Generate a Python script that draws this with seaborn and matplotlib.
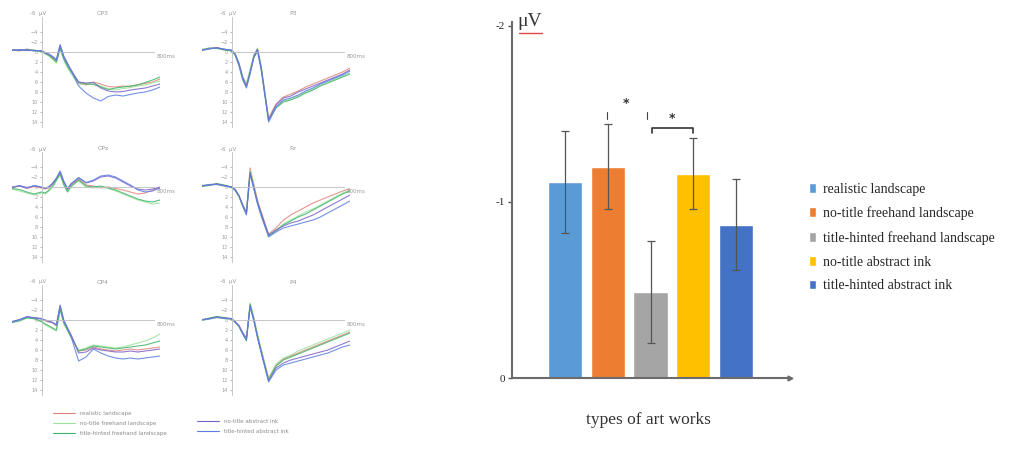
import matplotlib
matplotlib.use("Agg")
import matplotlib.pyplot as plt
import pandas as pd
import seaborn as sns
from matplotlib.lines import Line2D

sns.set_style("white")
plt.rcParams["font.family"] = ["DejaVu Sans"]

# ---------------- ERP waveforms (μV, positive plotted downward) ----------------
conditions = ["realistic landscape", "no-title freehand landscape",
              "title-hinted freehand landscape", "no-title abstract ink",
              "title-hinted abstract ink"]
wave_colors = ["#e3867a", "#9be39b", "#3fb36a", "#7a62c9", "#5b7ee0"]

times = [-200, -150, -100, -50, 0, 25, 50, 75, 100, 125, 150, 175, 200,
         250, 300, 350, 400, 450, 500, 550, 600, 650, 700, 750, 800]

cp3 = [
    [-0.4, -0.2, -0.6, -0.3, -0.2, 0.2, 0.6, 1.2, 1.8, -1.0, 1.2, 2.6, 3.8, 6.2, 6.6, 6.0, 6.4, 6.9, 7.0, 6.8, 6.9, 6.5, 6.3, 6.0, 5.4],
    [-0.3, -0.4, -0.5, -0.2, 0.0, 0.4, 0.8, 1.5, 2.2, -0.6, 1.6, 3.2, 4.4, 6.6, 6.3, 6.2, 6.8, 7.4, 7.6, 7.3, 7.1, 6.8, 6.6, 6.2, 5.8],
    [-0.5, -0.3, -0.4, -0.4, -0.1, 0.3, 0.7, 1.3, 2.0, -0.8, 1.4, 2.9, 4.0, 6.0, 6.4, 6.5, 7.0, 7.5, 7.2, 7.0, 6.8, 6.6, 6.1, 5.6, 5.0],
    [-0.3, -0.5, -0.3, -0.3, -0.2, 0.2, 0.5, 1.0, 1.6, -1.3, 1.0, 2.4, 3.6, 6.0, 6.2, 6.1, 7.2, 7.8, 8.0, 7.9, 7.6, 7.4, 7.2, 6.8, 6.4],
    [-0.4, -0.3, -0.5, -0.2, -0.3, 0.1, 0.4, 0.9, 1.5, -1.5, 0.8, 2.2, 3.8, 6.8, 8.2, 9.2, 9.8, 8.9, 8.6, 8.8, 8.5, 8.2, 8.0, 7.6, 7.0],
]
p3 = [
    [-0.4, -0.7, -0.9, -0.5, -0.3, 0.6, 2.6, 5.2, 6.6, 3.8, 1.0, -0.4, 3.2, 13.2, 10.4, 9.0, 8.4, 7.8, 7.0, 6.4, 5.8, 5.2, 4.6, 4.0, 3.2],
    [-0.3, -0.6, -0.8, -0.6, -0.2, 0.5, 2.4, 5.0, 6.2, 3.4, 0.6, -0.8, 2.8, 13.4, 11.0, 9.8, 9.4, 8.8, 8.0, 7.4, 6.6, 6.0, 5.4, 4.8, 4.2],
    [-0.5, -0.8, -0.7, -0.4, -0.2, 0.7, 2.8, 5.6, 7.0, 4.2, 1.2, -0.2, 3.6, 13.8, 11.2, 10.0, 9.6, 9.0, 8.2, 7.6, 6.8, 6.2, 5.6, 5.0, 4.4],
    [-0.4, -0.6, -0.9, -0.5, -0.4, 0.4, 2.2, 5.0, 6.8, 4.0, 0.8, -0.6, 3.0, 13.6, 10.6, 9.2, 8.8, 8.0, 7.4, 6.8, 6.2, 5.6, 5.0, 4.4, 3.6],
    [-0.3, -0.7, -0.8, -0.6, -0.3, 0.5, 2.6, 5.4, 7.2, 4.4, 1.0, -0.3, 3.4, 14.0, 11.0, 9.6, 9.2, 8.6, 7.8, 7.2, 6.4, 5.8, 5.2, 4.6, 3.8],
]
cpz = [
    [0.2, -0.2, 0.3, -0.1, 0.2, 0.4, 0.2, -0.6, -1.6, -2.8, -0.8, 0.6, -0.4, -1.6, -0.4, -0.2, 0.2, 0.0, 0.3, 0.6, 1.0, 1.4, 1.2, 0.6, 0.2],
    [0.4, 0.8, 1.2, 1.6, 1.2, 1.4, 0.8, 0.0, -1.2, -2.4, -0.6, 0.9, -0.2, -1.2, 0.0, 0.2, 0.0, 0.3, 0.8, 1.4, 2.0, 2.6, 3.0, 3.4, 3.2],
    [0.3, 0.5, 1.0, 1.4, 1.0, 1.2, 0.6, -0.2, -1.4, -2.6, -0.4, 1.0, -0.1, -1.4, -0.2, 0.0, -0.2, 0.2, 0.6, 1.2, 1.8, 2.4, 2.8, 3.0, 2.6],
    [0.1, -0.3, 0.1, -0.2, 0.0, 0.2, 0.0, -0.8, -1.8, -3.0, -1.0, 0.4, -0.6, -1.8, -0.8, -1.2, -2.0, -2.2, -1.8, -1.0, -0.2, 0.4, 0.6, 0.4, 0.0],
    [0.0, -0.2, 0.2, -0.3, 0.1, 0.3, -0.1, -0.7, -1.7, -3.2, -1.2, 0.3, -0.7, -1.9, -0.9, -1.4, -2.2, -2.4, -2.0, -1.2, -0.4, 0.6, 1.0, 0.8, 0.2],
]
pz = [
    [-0.2, -0.4, -0.6, -0.3, 0.0, 0.6, 1.8, 3.6, 5.0, -3.8, -0.6, 2.6, 5.0, 9.4, 8.2, 6.6, 5.6, 4.8, 4.0, 3.2, 2.6, 2.0, 1.4, 0.8, 0.3],
    [-0.3, -0.5, -0.5, -0.2, 0.1, 0.8, 2.0, 3.8, 4.8, -3.2, -0.2, 3.0, 5.4, 9.6, 8.6, 7.4, 6.6, 5.8, 5.0, 4.4, 3.6, 2.8, 2.0, 1.2, 0.6],
    [-0.1, -0.3, -0.7, -0.4, 0.0, 0.7, 1.9, 3.7, 5.2, -3.0, 0.0, 3.2, 5.6, 9.8, 8.8, 7.6, 6.8, 6.0, 5.4, 4.6, 3.8, 3.0, 2.2, 1.4, 0.8],
    [-0.2, -0.5, -0.6, -0.3, 0.1, 0.5, 1.7, 3.5, 5.4, -2.8, 0.2, 3.0, 5.2, 9.6, 8.6, 7.8, 7.2, 6.8, 6.2, 5.6, 4.8, 4.0, 3.2, 2.4, 1.6],
    [-0.3, -0.4, -0.5, -0.2, 0.0, 0.6, 1.8, 3.9, 5.6, -2.6, 0.4, 3.4, 5.8, 10.0, 9.0, 8.2, 7.8, 7.4, 7.0, 6.6, 6.0, 5.2, 4.4, 3.6, 2.8],
]
cp4 = [
    [0.4, 0.0, -0.6, -0.4, -0.2, 0.2, 0.4, 0.6, 1.2, -2.6, 0.4, 1.8, 3.2, 6.2, 6.0, 5.4, 5.8, 6.0, 6.2, 6.0, 5.8, 6.0, 5.8, 5.6, 5.4],
    [0.3, 0.1, -0.5, -0.2, 0.4, 1.0, 1.4, 1.8, 2.2, -2.0, 0.8, 2.2, 3.6, 6.0, 5.6, 5.0, 5.2, 5.4, 5.6, 5.4, 5.0, 4.6, 4.2, 3.6, 2.8],
    [0.5, 0.2, -0.4, -0.3, 0.3, 0.8, 1.2, 1.6, 2.0, -2.2, 0.6, 2.0, 3.4, 6.2, 5.8, 5.2, 5.4, 5.6, 5.8, 5.6, 5.4, 5.2, 5.0, 4.6, 4.2],
    [0.3, -0.1, -0.6, -0.5, -0.3, 0.1, 0.3, 0.5, 1.0, -2.8, 0.2, 1.6, 3.0, 6.6, 6.4, 5.6, 6.0, 6.2, 6.4, 6.4, 6.2, 6.4, 6.2, 6.0, 5.8],
    [0.4, 0.0, -0.7, -0.4, -0.2, 0.0, 0.2, 0.5, 0.9, -3.0, 0.0, 1.6, 3.4, 8.2, 7.4, 5.8, 6.6, 7.2, 7.6, 7.8, 7.6, 7.8, 7.6, 7.4, 7.2],
]
p4 = [
    [0.0, -0.3, -0.6, -0.4, -0.2, 0.4, 1.2, 2.6, 3.8, -3.0, -0.4, 3.0, 6.0, 11.6, 9.0, 7.8, 7.2, 6.6, 6.0, 5.4, 4.8, 4.2, 3.6, 3.0, 2.4],
    [0.1, -0.2, -0.5, -0.3, -0.1, 0.5, 1.4, 2.8, 4.0, -3.4, -0.6, 2.8, 5.8, 11.8, 8.8, 7.6, 7.0, 6.2, 5.6, 5.0, 4.4, 3.8, 3.2, 2.6, 2.0],
    [0.0, -0.4, -0.7, -0.5, -0.2, 0.3, 1.3, 2.7, 4.2, -3.2, -0.2, 3.2, 6.2, 12.0, 9.2, 8.0, 7.4, 6.8, 6.2, 5.6, 5.0, 4.4, 3.8, 3.2, 2.6],
    [-0.1, -0.3, -0.6, -0.4, -0.3, 0.4, 1.1, 2.5, 3.6, -2.8, 0.0, 3.4, 6.4, 12.2, 9.6, 8.6, 8.0, 7.6, 7.2, 6.8, 6.4, 6.0, 5.4, 4.8, 4.2],
    [0.0, -0.2, -0.5, -0.3, -0.2, 0.5, 1.2, 2.8, 4.0, -2.6, 0.2, 3.6, 6.6, 12.4, 10.0, 9.0, 8.6, 8.2, 7.8, 7.4, 7.0, 6.6, 6.0, 5.4, 5.0],
]

# ---------------- mean amplitudes (bar chart) ----------------
art_types = conditions
mean_amp = [-1.11, -1.20, -0.49, -1.16, -0.87]
sem_amp = [0.29, 0.24, 0.29, 0.20, 0.26]
bar_colors = ["#5b9bd5", "#ed7d31", "#a5a5a5", "#ffc000", "#4472c4"]

W, H = 1021, 450
fig = plt.figure(figsize=(W / 100, H / 100), dpi=100)

def fx(px):
    return px / W

def fy(py):
    return 1 - py / H

grey_txt = "#9a9a9a"
panels = [
    ("CP3", cp3, 12, 127), ("P3", p3, 202, 127),
    ("CPz", cpz, 12, 262), ("Pz", pz, 202, 262),
    ("CP4", cp4, 12, 395), ("P4", p4, 202, 395),
]
for name, waves, left_px, bottom_px in panels:
    ax = fig.add_axes([fx(left_px), fy(bottom_px), fx(148), 110 / H])
    rows = []
    for cond, vals in zip(conditions, waves):
        for t, v in zip(times, vals):
            rows.append({"t": t, "v": v, "cond": cond})
    df = pd.DataFrame(rows)
    sns.lineplot(data=df, x="t", y="v", hue="cond", palette=wave_colors,
                 hue_order=conditions, ax=ax, linewidth=0.8, legend=False,
                 errorbar=None, alpha=0.85)
    ax.set_xlim(-200, 800)
    ax.set_ylim(15, -7)
    for s in ["top", "right"]:
        ax.spines[s].set_visible(False)
    ax.spines["left"].set_position(("data", 0))
    ax.spines["bottom"].set_position(("data", 0))
    ax.spines["bottom"].set_bounds(0, 760)
    for s in ["left", "bottom"]:
        ax.spines[s].set_color("#bdbdbd")
        ax.spines[s].set_linewidth(0.6)
    ax.set_xticks([])
    ax.set_yticks(list(range(-4, 15, 2)))
    ax.tick_params(axis="y", labelsize=3.5, colors=grey_txt, length=1.5,
                   width=0.5, left=True, pad=1)
    ax.set_xlabel("")
    ax.set_ylabel("")
    ax.patch.set_alpha(0)
    ax.text(-25, -7.6, "-6  μV", fontsize=4, color=grey_txt, ha="center",
            va="center", clip_on=False)
    ax.text(415, -7.6, name, fontsize=4.5, color=grey_txt, ha="center",
            va="center", clip_on=False)
    ax.text(780, 0.9, "800ms", fontsize=4, color=grey_txt, ha="left",
            va="center", clip_on=False)

# waveform legend below the panels
handles = [Line2D([0], [0], color=c, lw=0.8) for c in wave_colors]
leg_kw = dict(frameon=False, fontsize=4, handlelength=4, labelspacing=0.9,
              handletextpad=0.8, labelcolor="#8a8a8a")
fig.legend(handles[:3], conditions[:3], loc="upper left",
           bbox_to_anchor=(fx(48), fy(406)), **leg_kw)
fig.legend(handles[3:], conditions[3:], loc="upper left",
           bbox_to_anchor=(fx(192), fy(414)), **leg_kw)

# ---------------- bar chart ----------------
serif = "Liberation Serif"
bx = fig.add_axes([fx(512), fy(378), fx(278), 356 / H])
sns.barplot(x=art_types, y=mean_amp, hue=art_types, palette=bar_colors,
            order=art_types, hue_order=art_types, ax=bx, width=0.8,
            errorbar=None, legend=True, saturation=1)
bx.errorbar(range(len(art_types)), mean_amp, yerr=sem_amp, fmt="none",
            ecolor="#555555", elinewidth=0.9, capsize=3, capthick=0.9)
bx.set_xlim(-1.24, 5.26)
bx.set_ylim(0, -2.02)
bx.set_yticks([0, -1, -2])
bx.set_yticklabels(["0", "-1", "-2"], fontsize=8, family=serif)
bx.tick_params(axis="y", left=True, length=3, width=1, color="#555555", pad=2)
bx.set_xticks([])
bx.set_xlabel("")
for s in ["top", "right"]:
    bx.spines[s].set_visible(False)
for s in ["left", "bottom"]:
    bx.spines[s].set_color("#6b6b6b")
    bx.spines[s].set_linewidth(1.5)
bx.plot(1, 0, marker=">", color="#6b6b6b", ms=3.5, transform=bx.transAxes,
        clip_on=False)

# significance marks
bx.plot([0.98, 0.98], [-1.51, -1.47], color="#444444", lw=0.8)
bx.plot([1.92, 1.92], [-1.51, -1.47], color="#444444", lw=0.8)
bx.text(1.43, -1.56, "*", fontsize=9, ha="center", va="center",
        color="#333333", fontweight="bold")
bx.plot([2.03, 2.03, 3.0, 3.0], [-1.39, -1.416, -1.416, -1.39],
        color="#333333", lw=1.2)
bx.text(2.5, -1.47, "*", fontsize=9, ha="center", va="center",
        color="#333333", fontweight="bold")

h, l = bx.get_legend_handles_labels()
bx.legend(h, l, loc="upper left", bbox_to_anchor=(fx(796), fy(170)),
          bbox_transform=fig.transFigure, frameon=False,
          prop={"family": serif, "size": 10}, handlelength=0.55,
          handleheight=0.7, labelspacing=0.78, handletextpad=0.5)

fig.text(fx(517), fy(21), "μV", fontsize=14, family=serif, ha="left",
         va="center", color="#333333")
fig.add_artist(Line2D([fx(519), fx(542)], [fy(33), fy(33)], color="#e04848",
                      lw=1.0))
fig.text(fx(648), fy(420), "types of art works", fontsize=12.5, family=serif,
         ha="center", va="center", color="#333333")

fig.savefig("out.png", dpi=100)
